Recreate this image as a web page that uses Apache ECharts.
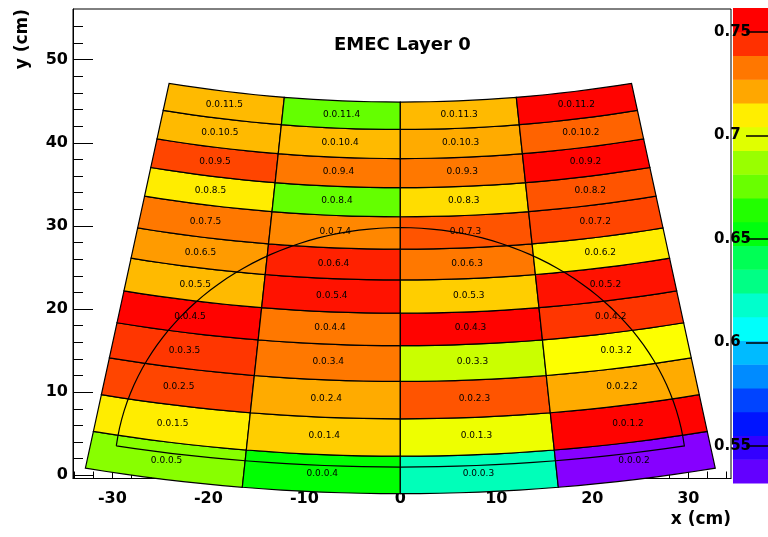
<!DOCTYPE html>
<html><head><meta charset="utf-8">
<script src="https://cdn.jsdelivr.net/npm/echarts@6/dist/echarts.min.js"></script>
<style>html,body{margin:0;padding:0;background:#fff}#c{width:768px;height:537px}</style>
</head><body><div id="c"></div>
<script>
// ---------- data ----------
const phiLabels = ['5', '4', '3', '2'];                 // columns, left to right
const colEdgesDeg = [-10.67, -5.33, 0, 5.33, 10.67];     // sector edges (deg from vertical, seen from apex)
const rowEdgesR = [177.2, 172.7, 168.2, 163.7, 159.4, 155.5, 151.5, 147.8, 143.9, 140.4, 136.9, 133.4, 130.1]; // row 0 (bottom) .. row 11 (top)
const apex = [0, 175];                                   // centre of the fan (cm)
// cell values, rows 0..11
const col5 = [0.688, 0.715, 0.748, 0.751, 0.761, 0.725, 0.731, 0.738, 0.715, 0.748, 0.725, 0.725];
const col4 = [0.661, 0.721, 0.728, 0.738, 0.738, 0.758, 0.755, 0.735, 0.681, 0.738, 0.725, 0.681];
const col3 = [0.625, 0.708, 0.745, 0.701, 0.761, 0.721, 0.738, 0.745, 0.718, 0.738, 0.728, 0.725];
const col2 = [0.535, 0.761, 0.728, 0.711, 0.751, 0.758, 0.715, 0.748, 0.745, 0.761, 0.742, 0.761];
const outlineR = [29.8];      // circle radius (cm) around origin
const outlineBaseR = [174];   // base curve radius around apex
const xTicks = [-30, -20, -10, 0, 10, 20, 30];
const xMinor = [-34, -32, -28, -26, -24, -22, -18, -16, -14, -12, -8, -6, -4, -2, 2, 4, 6, 8, 12, 14, 16, 18, 22, 24, 26, 28, 32, 34];
const yTicks = [0, 10, 20, 30, 40, 50];
const yMinor = [2, 4, 6, 8, 12, 14, 16, 18, 22, 24, 26, 28, 32, 34, 36, 38, 42, 44, 46, 48, 52, 54];
const zTicks = [0.55, 0.6, 0.65, 0.7, 0.75];
const zRange = [0.532, 0.7615];
const nBands = 20;

// ---------- styles ----------
const rootPalette = ['#6300ff','#3300ff','#0014ff','#0044ff','#008bff','#00bbff','#00fffb','#00ffcc','#00ff85','#00ff55',
  '#00ff0e','#22ff00','#69ff00','#99ff00','#e0ff00','#ffee00','#ffa700','#ff7700','#ff3000','#ff0000'];
function hue2hex(h) {
  const f = n => { const k = (n + h / 30) % 12; const c = 0.5 - 0.5 * Math.max(-1, Math.min(k - 3, 9 - k, 1)); return Math.round(c * 255).toString(16).padStart(2, '0'); };
  return '#' + f(0) + f(8) + f(4);
}
const hueStops = [];
for (let h = 275; h >= 0; h -= 5) hueStops.push(hue2hex(h));   // low value = violet, high value = red

const cellData = [];
[col5, col4, col3, col2].forEach((vals, c) => vals.forEach((v, r) => cellData.push([c, r, v])));
const cellLabel = cellData.map(d => '0.0.' + d[1] + '.' + phiLabels[d[0]]);

function pt(r, aDeg) { const a = aDeg * Math.PI / 180; return [apex[0] + r * Math.sin(a), apex[1] - r * Math.cos(a)]; }

const FONT = 'DejaVu Sans';
const GRID = { left: 73, right: 37, top: 9, bottom: 58.5 };
const XMIN = -34.1, XMAX = 34.45, YMIN = -0.38, YMAX = 56.09;

const chart = echarts.init(document.getElementById('c'), null, { renderer: 'canvas' });
chart.setOption({
  animation: false,
  backgroundColor: '#fff',
  title: { text: 'EMEC Layer 0', left: 329, top: 31, textStyle: { fontFamily: FONT, fontWeight: 'bold', fontSize: 18, color: '#000' } },
  grid: [
    Object.assign({ show: true, borderColor: '#000', borderWidth: 1, backgroundColor: 'transparent' }, GRID),
    { left: 733, top: 8, width: 40, height: 475, show: false },
    Object.assign({ show: false }, GRID)
  ],
  xAxis: [
    { gridIndex: 0, type: 'value', min: XMIN, max: XMAX, position: 'bottom',
      axisLine: { show: true, onZero: false, lineStyle: { color: '#000', width: 1 } },
      axisTick: { show: true, inside: true, length: 14, customValues: xTicks, lineStyle: { color: '#000' } },
      axisLabel: { show: true, customValues: xTicks, margin: 12, color: '#000', fontSize: 16, fontWeight: 'bold', fontFamily: FONT },
      splitLine: { show: false } },
    { gridIndex: 1, type: 'value', min: 0, max: 1, show: false },
    { gridIndex: 2, type: 'value', min: XMIN, max: XMAX, position: 'bottom',
      axisLine: { show: false, onZero: false }, axisLabel: { show: false }, splitLine: { show: false },
      axisTick: { show: true, inside: true, length: 7, customValues: xMinor, lineStyle: { color: '#000' } } }
  ],
  yAxis: [
    { gridIndex: 0, type: 'value', min: YMIN, max: YMAX, position: 'left',
      axisLine: { show: true, onZero: false, lineStyle: { color: '#000', width: 1 } },
      axisTick: { show: true, inside: true, length: 20, customValues: yTicks, lineStyle: { color: '#000' } },
      axisLabel: { show: true, customValues: yTicks, margin: 5, color: '#000', fontSize: 16, fontWeight: 'bold', fontFamily: FONT },
      splitLine: { show: false } },
    { gridIndex: 1, type: 'value', min: zRange[0], max: zRange[1], position: 'right', z: 10,
      axisLine: { show: false, onZero: false }, splitLine: { show: false },
      axisTick: { show: true, inside: true, length: 22, customValues: zTicks, lineStyle: { color: '#000', width: 1.5 } },
      axisLabel: { show: true, inside: true, customValues: zTicks, align: 'left', margin: 54, color: '#000', fontSize: 15, fontWeight: 'bold', fontFamily: FONT } },
    { gridIndex: 2, type: 'value', min: YMIN, max: YMAX, position: 'left',
      axisLine: { show: false, onZero: false }, axisLabel: { show: false }, splitLine: { show: false },
      axisTick: { show: true, inside: true, length: 10, customValues: yMinor, lineStyle: { color: '#000' } } }
  ],
  visualMap: { type: 'continuous', show: false, seriesIndex: 0, dimension: 2, min: zRange[0], max: zRange[1], inRange: { color: hueStops } },
  graphic: [
    { type: 'text', x: 23, y: 9, rotation: Math.PI / 2, style: { text: 'y (cm)', fontFamily: FONT, fontWeight: 'bold', fontSize: 17, fill: '#000', align: 'right', verticalAlign: 'middle' } },
    { type: 'text', x: 731, y: 520, style: { text: 'x (cm)', fontFamily: FONT, fontWeight: 'bold', fontSize: 17, fill: '#000', align: 'right', verticalAlign: 'middle' } }
  ],
  series: [
    { type: 'custom', coordinateSystem: 'cartesian2d', xAxisIndex: 0, yAxisIndex: 0, clip: false, data: cellData,
      renderItem: function (params, api) {
        const c = api.value(0), r = api.value(1);
        const a0 = colEdgesDeg[c], a1 = colEdgesDeg[c + 1], r0 = rowEdgesR[r], r1 = rowEdgesR[r + 1];
        const pts = [];
        const n = 8;
        for (let i = 0; i <= n; i++) pts.push(api.coord(pt(r0, a0 + (a1 - a0) * i / n)));
        for (let i = 0; i <= n; i++) pts.push(api.coord(pt(r1, a1 + (a0 - a1) * i / n)));
        const cen = api.coord(pt((r0 + r1) / 2, (a0 + a1) / 2));
        return { type: 'group', children: [
          { type: 'polygon', shape: { points: pts }, style: { fill: api.visual('color'), stroke: '#000', lineWidth: 1.2 } },
          { type: 'text', x: cen[0], y: cen[1], z2: 5, style: { text: cellLabel[params.dataIndex], fill: '#000', fontSize: 9, fontFamily: FONT, align: 'center', verticalAlign: 'middle' } }
        ] };
      } },
    { type: 'custom', coordinateSystem: 'cartesian2d', xAxisIndex: 0, yAxisIndex: 0, clip: false, data: [[0, 0]], z: 3,
      renderItem: function (params, api) {
        const R = outlineR[0], Rb = outlineBaseR[0], A = apex[1];
        const yI = (A * A + R * R - Rb * Rb) / (2 * A);
        const xI = Math.sqrt(R * R - yI * yI);
        const al = Math.atan2(yI, xI);
        const pts = [];
        const n = 80;
        for (let i = 0; i <= n; i++) { const t = (Math.PI - al) - (Math.PI - 2 * al) * i / n; pts.push(api.coord([R * Math.cos(t), R * Math.sin(t)])); }
        const ph = Math.asin(xI / Rb) * 180 / Math.PI;
        for (let i = 0; i <= 30; i++) pts.push(api.coord(pt(Rb, ph - 2 * ph * i / 30)));
        return { type: 'polyline', shape: { points: pts }, style: { fill: null, stroke: '#000', lineWidth: 1.2 } };
      } },
    { type: 'custom', coordinateSystem: 'cartesian2d', xAxisIndex: 1, yAxisIndex: 1, clip: false,
      data: rootPalette.map((col, k) => [k]),
      renderItem: function (params, api) {
        const k = api.value(0);
        const step = (zRange[1] - zRange[0]) / nBands;
        const lo = zRange[0] + k * step, hi = lo + step;
        const p0 = api.coord([0, lo]), p1 = api.coord([1, hi]);
        return { type: 'rect', shape: { x: p0[0], y: p1[1], width: p1[0] - p0[0], height: p0[1] - p1[1] + 0.5 }, style: { fill: rootPalette[k] } };
      } }
  ]
});
</script></body></html>
